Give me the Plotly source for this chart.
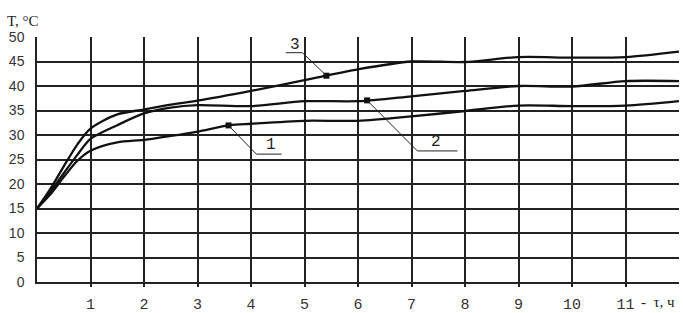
import numpy as np
import plotly.graph_objects as go

# time, h
t1 = [0, 0.25, 0.5, 0.75, 1, 1.5, 2, 2.5, 3, 3.6, 4, 5, 6, 7, 8, 9, 10, 11, 12]
T1 = [15, 17.9, 21.4, 24.7, 26.8, 28.5, 29.0, 29.8, 30.7, 32.0, 32.3, 32.9, 32.9, 33.8, 34.9, 36.0, 35.9, 36.0, 36.9]

t2 = [0, 0.25, 0.5, 0.75, 1, 1.5, 2, 2.5, 3, 4, 5, 6, 7, 8, 9, 10, 11, 12]
T2 = [15, 18.4, 22.2, 25.9, 29.2, 32.0, 34.4, 35.6, 36.1, 35.9, 36.9, 36.9, 37.9, 39.0, 40.0, 39.9, 41.0, 41.0]

t3 = [0, 0.25, 0.5, 0.75, 1, 1.5, 2, 2.5, 3, 4, 5, 6, 7, 8, 9, 10, 11, 12]
T3 = [15, 19.0, 23.6, 28.0, 31.3, 34.2, 35.2, 36.2, 37.0, 39.0, 41.2, 43.4, 45.0, 44.9, 45.9, 45.8, 45.9, 47.0]

series_names = ["1", "2", "3"]
marker_t = [3.58, 6.17, 5.41]

x_ticks = [1, 2, 3, 4, 5, 6, 7, 8, 9, 10, 11]
x_tick_labels = ["1", "2", "3", "4", "5", "6", "7", "8", "9", "10", "11"]
y_ticks = [0, 5, 10, 15, 20, 25, 30, 35, 40, 45, 50]

fig = go.Figure()
curves = [(t1, T1), (t2, T2), (t3, T3)]
for (tx, ty), name in zip(curves, series_names):
    fig.add_trace(go.Scatter(x=tx, y=ty, mode="lines", name=name,
                             line=dict(color="#111111", width=2.3, shape="spline", smoothing=0.8),
                             showlegend=False, hoverinfo="skip"))

mx = marker_t
my = [float(np.interp(m, tx, ty)) for m, (tx, ty) in zip(mx, curves)]
fig.add_trace(go.Scatter(x=mx, y=my, mode="markers",
                         marker=dict(symbol="square", size=6, color="#111111"),
                         showlegend=False, hoverinfo="skip"))

# leader lines (label callouts)
leaders = [
    (0, (4.10, 26.1), (4.57, 26.1), (4.38, 27.9)),
    (1, (7.11, 26.75), (7.86, 26.75), (7.45, 28.5)),
    (2, (4.96, 46.8), (4.65, 46.8), (4.83, 48.3)),
]
for i, (px, py), (hx, hy), (lx, ly) in leaders:
    fig.add_shape(type="line", xref="x", yref="y", x0=mx[i], y0=my[i], x1=px, y1=py,
                  line=dict(color="#222222", width=1))
    fig.add_shape(type="line", xref="x", yref="y", x0=px, y0=py, x1=hx, y1=hy,
                  line=dict(color="#222222", width=1))
    fig.add_annotation(x=lx, y=ly, xref="x", yref="y", text=series_names[i], showarrow=False,
                       font=dict(family="Liberation Mono", size=16, color="#222222"))

fig.add_annotation(x=0, y=1.0, xref="paper", yref="paper", xanchor="left", yanchor="bottom",
                   xshift=-32, yshift=6, text="T, °C", showarrow=False,
                   font=dict(family="Liberation Serif", size=15, color="#222222"))
fig.add_annotation(x=11, y=0, xref="x", yref="y", xanchor="left", yanchor="top",
                   xshift=13, yshift=-10, text="-  τ, ч", showarrow=False,
                   font=dict(family="Liberation Serif", size=15, color="#222222"))

fig.update_xaxes(range=[0, 12], tickvals=x_ticks, ticktext=x_tick_labels,
                 showgrid=True, gridcolor="#222222", gridwidth=1.5,
                 showline=True, linecolor="#222222", linewidth=1.5,
                 ticks="outside", ticklen=3, tickcolor="#222222", tickwidth=1.5,
                 ticklabelstandoff=4,
                 tickfont=dict(family="Liberation Mono", size=15, color="#333333"),
                 zeroline=False, fixedrange=True, automargin=False)
fig.update_yaxes(range=[0, 50], tickvals=y_ticks,
                 showgrid=True, gridcolor="#222222", gridwidth=1.5,
                 showline=True, linecolor="#222222", linewidth=1.5,
                 ticks="", ticklabelstandoff=8,
                 tickfont=dict(family="Liberation Sans", size=14, color="#333333"),
                 zeroline=False, fixedrange=True, automargin=False)

fig.update_layout(width=683, height=313, margin=dict(l=37, r=4, t=37, b=31),
                  plot_bgcolor="white", paper_bgcolor="white")

fig.write_html("out.html", config={"displayModeBar": False},
               post_script="document.body.style.margin='0';document.body.style.overflow='hidden';")
